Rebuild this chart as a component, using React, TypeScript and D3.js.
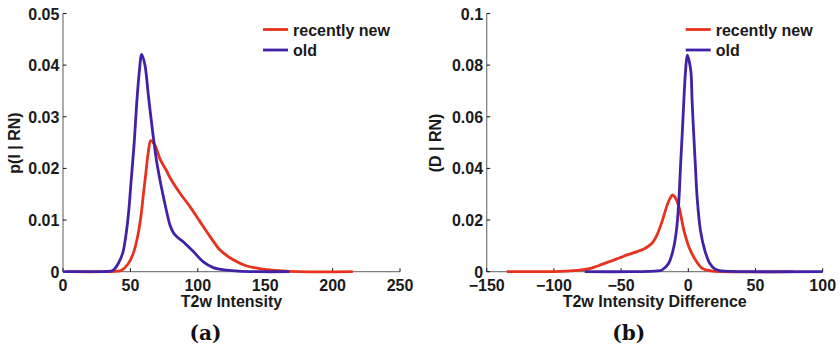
import React from "react";
import * as d3 from "d3";

// Panel (a): T2w intensity densities
const A_NEW_X = [3, 30, 40, 43.5, 48.5, 52.2, 55.1, 57.6, 59.6, 61.6, 63.3, 65.1, 68.2, 72.0, 76.9, 79.4, 86.8, 94.2, 101.6, 109.1, 116.5, 126.3, 136.3, 148.6, 160, 175, 215];
const A_NEW_Y = [0, 0, 0.0001, 0.0003, 0.0016, 0.0036, 0.0065, 0.0103, 0.0149, 0.0194, 0.0232, 0.0254, 0.0245, 0.0218, 0.0195, 0.0182, 0.0152, 0.0126, 0.0097, 0.0068, 0.0042, 0.0023, 0.0011, 0.0005, 0.0002, 0, 0];
const A_OLD_X = [0, 20, 30, 35, 37.3, 41.0, 44.3, 46.7, 48.7, 50.7, 52.7, 54.6, 56.6, 58.4, 60.8, 63.3, 66.5, 69.5, 73.2, 76.9, 79.4, 81.8, 84.3, 89.2, 92, 96.7, 104.1, 111.5, 121.4, 130, 145, 168];
const A_OLD_Y = [0, 0, 0.00003, 0.0001, 0.0003, 0.0016, 0.0036, 0.0071, 0.0116, 0.0181, 0.0245, 0.0323, 0.0387, 0.0421, 0.04, 0.0342, 0.0271, 0.0213, 0.0161, 0.0116, 0.009, 0.0076, 0.0068, 0.0058, 0.0051, 0.0039, 0.0019, 0.0008, 0.0003, 0.0001, 0, 0];

// Panel (b): T2w intensity difference densities
const B_NEW_X = [-135, -110, -100, -91, -85, -78, -72, -66, -58, -51, -45, -38, -33, -30, -27, -23.5, -19.8, -16.1, -13.5, -11.6, -9.5, -7.0, -3.3, 0.4, 5.4, 10.4, 17, 25, 78];
const B_NEW_Y = [0, 0, 0.00005, 0.0002, 0.0004, 0.0008, 0.0014, 0.0025, 0.004, 0.0054, 0.0066, 0.0078, 0.0088, 0.0098, 0.011, 0.014, 0.019, 0.0252, 0.0285, 0.0297, 0.0285, 0.0252, 0.0161, 0.0097, 0.0045, 0.0013, 0.0003, 0, 0];
const B_OLD_X = [-77, -40, -30, -23, -19.5, -14.6, -11.3, -8.8, -7.0, -5.8, -4.5, -3.3, -2.0, -0.74, 1.8, 2.8, 4.0, 5.3, 6.7, 9.0, 12.2, 15.9, 20, 25, 32, 40, 100];
const B_OLD_Y = [0, 0, 0.0001, 0.0003, 0.0007, 0.0033, 0.0084, 0.0161, 0.0278, 0.0407, 0.0536, 0.0665, 0.0781, 0.0839, 0.0781, 0.0665, 0.0536, 0.0407, 0.0278, 0.0161, 0.0084, 0.0033, 0.001, 0.0003, 0.0001, 0, 0];

const A_XTICKS = [0, 50, 100, 150, 200, 250];
const A_YTICKS = [0, 0.01, 0.02, 0.03, 0.04, 0.05];
const B_XTICKS = [-150, -100, -50, 0, 50, 100];
const B_YTICKS = [0, 0.02, 0.04, 0.06, 0.08, 0.1];
const SERIES_NAMES = ["recently new", "old"];

const RED = "#e6321e";
const BLUE = "#4321a6";
const FONT = "'Liberation Sans', Arial, Helvetica, sans-serif";

type PanelProps = {
  left: number;
  right: number;
  xDomain: [number, number];
  yDomain: [number, number];
  xTicks: number[];
  yTicks: number[];
  newX: number[];
  newY: number[];
  oldX: number[];
  oldY: number[];
  xLabel: string;
  yLabel: string;
  yLabelX: number;
  caption: string;
};

const TOP = 13.5;
const BOTTOM = 271.7;

function fmtX(v: number) {
  return v < 0 ? "\u2212" + Math.abs(v) : String(v);
}

function Panel(p: PanelProps) {
  const x = d3.scaleLinear().domain(p.xDomain).range([p.left, p.right]);
  const y = d3.scaleLinear().domain(p.yDomain).range([BOTTOM, TOP]);
  const line = d3
    .line<[number, number]>()
    .x((d) => x(d[0]))
    .y((d) => y(d[1]))
    .curve(d3.curveCatmullRom.alpha(0.5));
  const newPts = p.newX.map((v, i) => [v, p.newY[i]] as [number, number]);
  const oldPts = p.oldX.map((v, i) => [v, p.oldY[i]] as [number, number]);
  const cx = (p.left + p.right) / 2;
  const legX = p.right - 137;
  return (
    <g>
      {/* axes */}
      <line x1={p.left} x2={p.left} y1={TOP} y2={BOTTOM} stroke="#808080" strokeWidth={1.3} />
      <line x1={p.left} x2={p.right} y1={BOTTOM} y2={BOTTOM} stroke="#808080" strokeWidth={1.3} />
      {p.yTicks.map((t) => (
        <g key={"y" + t}>
          <line x1={p.left} x2={p.left + 3.5} y1={y(t)} y2={y(t)} stroke="#111" strokeWidth={1} />
          <text x={p.left - 3.6} y={y(t) + 6} textAnchor="end" fontFamily={FONT} fontWeight="bold" fontSize={16} fill="#1a1a1a">
            {String(t)}
          </text>
        </g>
      ))}
      {p.xTicks.map((t) => (
        <g key={"x" + t}>
          <line x1={x(t)} x2={x(t)} y1={BOTTOM} y2={BOTTOM - 3.5} stroke="#111" strokeWidth={1} />
          <text x={x(t)} y={291} textAnchor="middle" fontFamily={FONT} fontWeight="bold" fontSize={16} fill="#1a1a1a">
            {fmtX(t)}
          </text>
        </g>
      ))}
      <text x={cx} y={306.5} textAnchor="middle" fontFamily={FONT} fontWeight="bold" fontSize={16} fill="#1a1a1a">
        {p.xLabel}
      </text>
      <text
        transform={`translate(${p.yLabelX},143) rotate(-90)`}
        textAnchor="middle"
        fontFamily={FONT}
        fontWeight="bold"
        fontSize={16}
        fill="#1a1a1a"
      >
        {p.yLabel}
      </text>
      {/* curves */}
      <path d={line(newPts) || ""} fill="none" stroke={RED} strokeWidth={2.8} strokeLinejoin="round" />
      <path d={line(oldPts) || ""} fill="none" stroke={BLUE} strokeWidth={2.8} strokeLinejoin="round" />
      {/* legend */}
      {SERIES_NAMES.map((name, i) => (
        <g key={name}>
          <line x1={legX} x2={legX + 25} y1={29.5 + i * 20.5} y2={29.5 + i * 20.5} stroke={i === 0 ? RED : BLUE} strokeWidth={2.8} />
          <text x={legX + 30} y={35.5 + i * 20.5} fontFamily={FONT} fontWeight="bold" fontSize={16} fill="#1a1a1a">
            {name}
          </text>
        </g>
      ))}
      <text x={cx - 26} y={340} textAnchor="middle" fontFamily="'DejaVu Serif', serif" fontWeight="bold" fontSize={20} fill="#111">
        {p.caption}
      </text>
    </g>
  );
}

export default function App() {
  return (
    <svg width={840} height={350} style={{ position: "absolute", left: 0, top: 0, background: "#fff" }}>
      <Panel
        left={63}
        right={400}
        xDomain={[0, 250]}
        yDomain={[0, 0.05]}
        xTicks={A_XTICKS}
        yTicks={A_YTICKS}
        newX={A_NEW_X}
        newY={A_NEW_Y}
        oldX={A_OLD_X}
        oldY={A_OLD_Y}
        xLabel="T2w Intensity"
        yLabel="p(I | RN)"
        yLabelX={19.5}
        caption="(a)"
      />
      <Panel
        left={486.7}
        right={822.7}
        xDomain={[-150, 100]}
        yDomain={[0, 0.1]}
        xTicks={B_XTICKS}
        yTicks={B_YTICKS}
        newX={B_NEW_X}
        newY={B_NEW_Y}
        oldX={B_OLD_X}
        oldY={B_OLD_Y}
        xLabel="T2w Intensity Difference"
        yLabel="(D | RN)"
        yLabelX={440.7}
        caption="(b)"
      />
    </svg>
  );
}
